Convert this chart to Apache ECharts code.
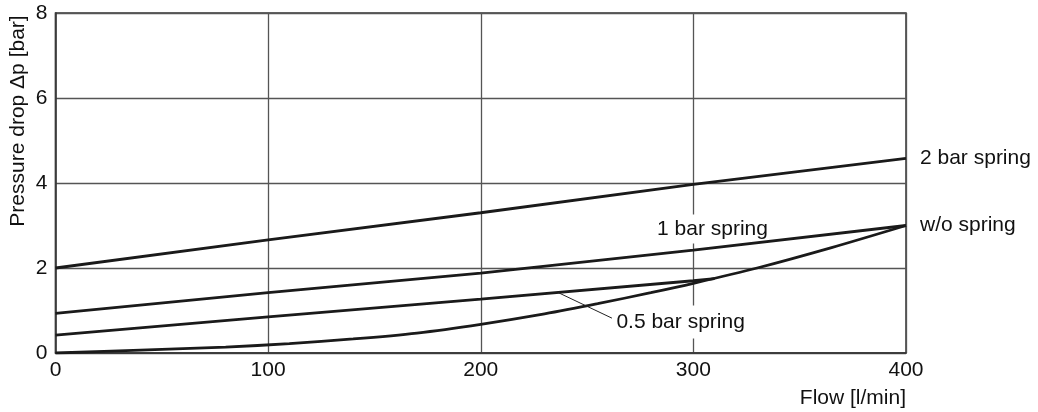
<!DOCTYPE html>
<html>
<head>
<meta charset="utf-8">
<script src="https://cdn.jsdelivr.net/npm/echarts@6/dist/echarts.min.js"></script>
<style>
html,body{margin:0;padding:0;background:#fff;}
#c{width:1038px;height:412px;}
</style>
</head>
<body>
<div id="c"></div>
<script>
// Data
const flowLinear = [0, 100, 200, 300, 400];
const spring2bar = [2.0, 2.66, 3.3, 3.97, 4.58];
const spring1bar = [0.93, 1.42, 1.88, 2.42, 3.0];
const flowHalf = [0, 100, 200, 300, 310];
const spring05bar = [0.42, 0.85, 1.27, 1.70, 1.75];
const flowNoSpring = [0, 40, 80, 110, 140, 170, 200, 230, 255, 280, 300, 330, 365, 400];
const noSpring = [0, 0.07, 0.14, 0.22, 0.33, 0.47, 0.675, 0.92, 1.16, 1.42, 1.64, 2.0, 2.48, 3.0];
const xTicks = [0, 100, 200, 300, 400];
const yTicks = [0, 2, 4, 6, 8];
const labelPos1bar = [309, 2.92];
const labelPos05bar = [294, 0.73];
const leader05 = [[236.5, 1.42], [261.7, 0.82]];

const pairs = (xs, ys) => xs.map((x, i) => [x, ys[i]]);
const FONT = '"Liberation Sans", Arial, Helvetica, sans-serif';
const FS = 21;
const lineStyle = { color: '#1a1a1a', width: 2.8 };

const chart = echarts.init(document.getElementById('c'), null, { renderer: 'canvas' });
chart.setOption({
  animation: false,
  backgroundColor: '#fff',
  textStyle: { fontFamily: FONT },
  grid: { left: 55.5, right: 132, top: 13, bottom: 59, show: true, borderColor: '#333', borderWidth: 1.5, backgroundColor: 'transparent' },
  xAxis: {
    type: 'value', min: xTicks[0], max: xTicks[xTicks.length - 1], interval: 100,
    axisLine: { show: true, lineStyle: { color: '#333', width: 1.5 } },
    axisTick: { show: false },
    axisLabel: { fontSize: FS, color: '#111', fontFamily: FONT, margin: 7 },
    splitLine: { show: true, lineStyle: { color: '#555', width: 1.3 } }
  },
  yAxis: {
    type: 'value', min: yTicks[0], max: yTicks[yTicks.length - 1], interval: 2,
    axisLine: { show: true, lineStyle: { color: '#333', width: 1.5 } },
    axisTick: { show: false },
    axisLabel: { fontSize: FS, color: '#111', fontFamily: FONT, margin: 8 },
    splitLine: { show: true, lineStyle: { color: '#555', width: 1.3 } }
  },
  graphic: [
    { type: 'text', x: 18, y: 121, rotation: Math.PI / 2,
      style: { text: 'Pressure drop Δp [bar]', fontSize: FS, fontFamily: FONT, fill: '#111', align: 'center', verticalAlign: 'middle' } },
    { type: 'text', x: 906, y: 398,
      style: { text: 'Flow [l/min]', fontSize: FS, fontFamily: FONT, fill: '#111', align: 'right', verticalAlign: 'middle' } }
  ],
  series: [
    {
      name: 'labels', type: 'scatter', z: 1, symbolSize: 0, silent: true,
      itemStyle: { opacity: 1 },
      data: [
        { value: labelPos1bar, label: { formatter: '1 bar spring', padding: [4, 3] } },
        { value: labelPos05bar, label: { formatter: '0.5 bar spring', padding: [6, 3] } }
      ],
      label: { show: true, position: 'inside', fontSize: FS, color: '#111', opacity: 1, fontFamily: FONT, backgroundColor: '#fff' },
      markLine: {
        symbol: 'none', silent: true, label: { show: false },
        lineStyle: { color: '#222', width: 1, type: 'solid', opacity: 1 },
        data: [[{ coord: leader05[0] }, { coord: leader05[1] }]]
      }
    },
    {
      name: '2 bar spring', type: 'line', data: pairs(flowLinear, spring2bar),
      showSymbol: false, lineStyle: lineStyle, z: 3,
      endLabel: { show: true, formatter: '{a}', fontSize: FS, color: '#111', fontFamily: FONT, distance: 14 }
    },
    {
      name: '1 bar spring', type: 'line', data: pairs(flowLinear, spring1bar),
      showSymbol: false, lineStyle: lineStyle, z: 3
    },
    {
      name: '0.5 bar spring', type: 'line', data: pairs(flowHalf, spring05bar),
      showSymbol: false, lineStyle: lineStyle, z: 3
    },
    {
      name: 'w/o spring', type: 'line', data: pairs(flowNoSpring, noSpring),
      showSymbol: false, smooth: 0.3, lineStyle: lineStyle, z: 3,
      endLabel: { show: true, formatter: '{a}', fontSize: FS, color: '#111', fontFamily: FONT, distance: 14 }
    }
  ]
});
</script>
</body>
</html>
